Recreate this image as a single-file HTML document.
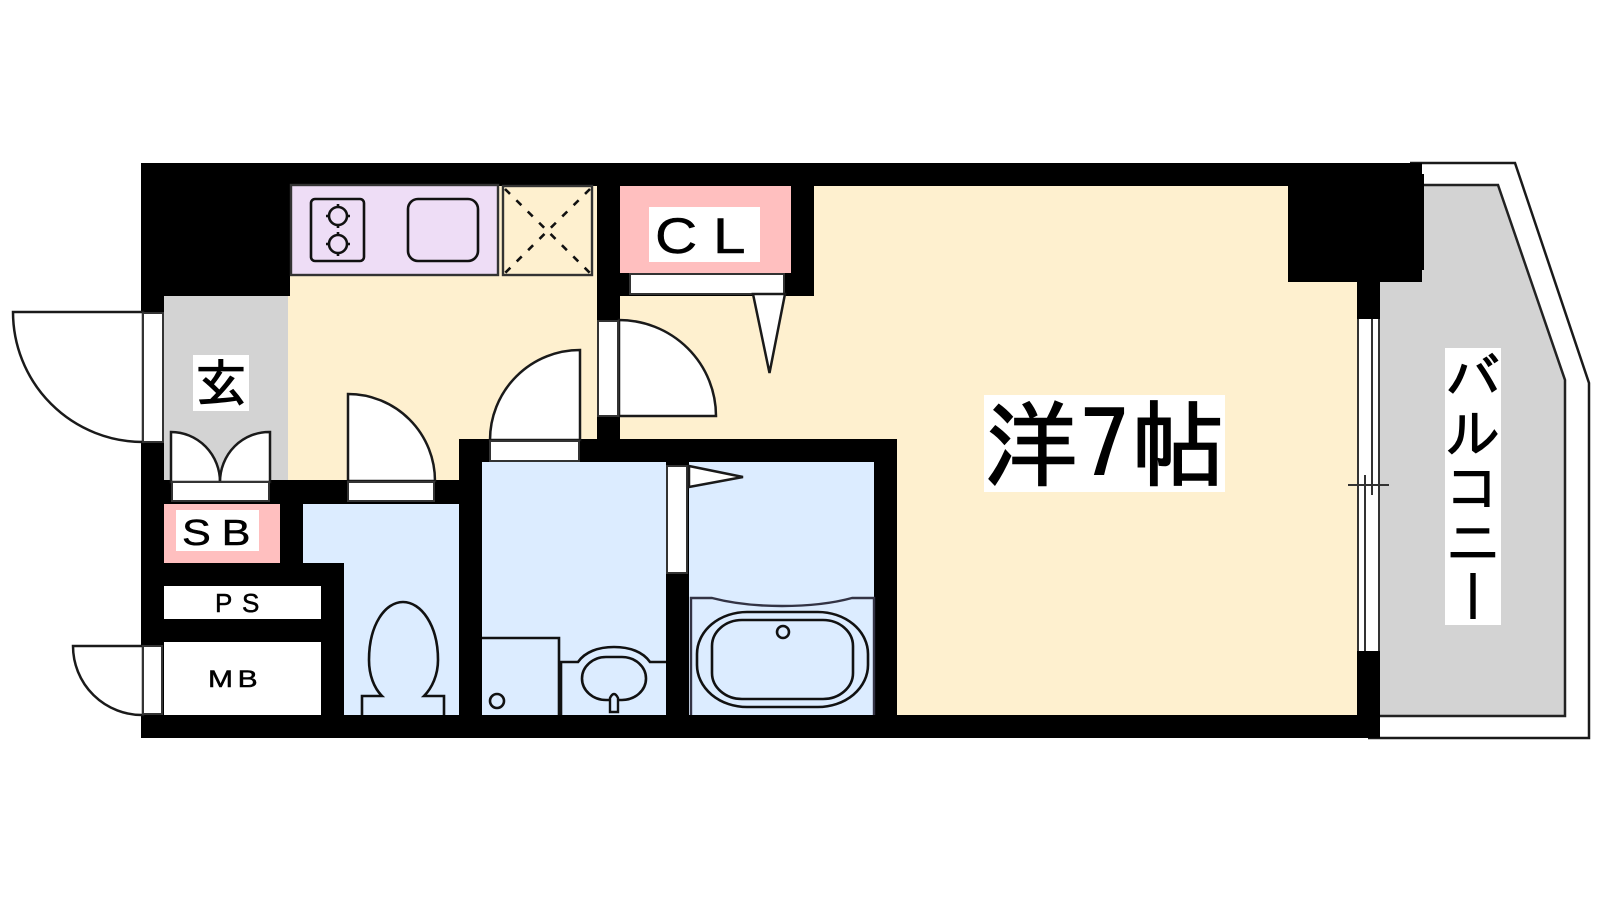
<!DOCTYPE html>
<html><head><meta charset="utf-8"><style>
html,body{margin:0;padding:0;background:#fff;width:1600px;height:900px;overflow:hidden}
svg{display:block}
.l{fill:none;stroke:#111;stroke-width:2.600}
.d{fill:#fff;stroke:#1a1a1a;stroke-width:2.500}
.g{fill:#fff;stroke:#333;stroke-width:2}
text{fill:#000}
.a{font-family:"Liberation Sans",sans-serif;stroke:#000;stroke-width:.5}
.j{font-family:"IPAGothic","Noto Sans CJK JP",sans-serif;stroke:#000}
</style></head><body>
<svg width="1600" height="900" viewBox="0 0 1600 900" xmlns="http://www.w3.org/2000/svg">
<path class="d" d="M1410 163H1515L1589 383V738H1368"/>
<path d="M1375 185H1498L1565 380V716H1375Z" fill="#d3d3d3" stroke="#222" stroke-width="2.500"/>
<rect x="141" y="163" width="1239" height="575" fill="#000"/>
<rect x="1380" y="163" width="42" height="119" fill="#000"/>
<rect x="1420" y="174" width="4" height="96" fill="#000"/>
<path d="M288 186H1288V282H1357V715H897V439H620V296H814V186H288Z" fill="#fef0cf"/>
<path d="M791 186H814V296H620V186Z" fill="#000"/>
<rect x="288" y="186" width="309" height="294" fill="#fef0cf"/>
<rect x="288" y="186" width="2" height="110" fill="#000"/>
<rect x="344" y="439" width="115" height="41" fill="#fef0cf"/>
<rect x="164" y="296" width="124" height="184" fill="#d3d3d3"/>
<rect x="288" y="296" width="171" height="184" fill="#fef0cf"/>
<rect x="459" y="439" width="160" height="41" fill="#000"/>
<rect x="597" y="186" width="23" height="253" fill="#000"/>
<rect x="620" y="186" width="171" height="87" fill="#ffbfbf"/>
<rect x="482" y="462" width="184" height="253" fill="#dcecff"/>
<rect x="689" y="462" width="185" height="253" fill="#dcecff"/>
<path d="M303 504H459V715H344V563H303Z" fill="#dcecff"/>
<rect x="164" y="504" width="116" height="59" fill="#ffbfbf"/>
<rect x="164" y="586" width="157" height="33" fill="#fff"/>
<rect x="164" y="642" width="157" height="73" fill="#fff"/>

<rect x="291" y="185" width="207" height="90" fill="#eeddf6" stroke="#333" stroke-width="2.400"/>
<rect x="311" y="199" width="53" height="62" rx="4" class="l"/>
<circle cx="338" cy="216" r="9" class="l"/><circle cx="338" cy="244" r="9" class="l"/>
<path class="l" d="M338 204v4M338 224v4M326 216h4M346 216h4M338 232v4M338 252v4M326 244h4M346 244h4"/>
<rect x="408" y="199" width="70" height="62" rx="10" class="l"/>
<rect x="503" y="186" width="89" height="89" fill="#fef0cf" stroke="#333" stroke-width="2.400"/>
<path class="l" stroke-dasharray="7 9" d="M505 189L590 273M590 189L505 273"/>

<path class="d" d="M143 312H13A130 130 0 0 0 143 442Z"/>
<rect class="g" x="143" y="313" width="20" height="129"/>
<path class="d" d="M143 646H73A69 69 0 0 0 143 715Z"/>
<rect class="g" x="143" y="646" width="19" height="68"/>
<path class="d" d="M171 432A49 50 0 0 1 220 482H171Z"/>
<path class="d" d="M270 432A49 50 0 0 0 220 482H270Z"/>
<rect class="g" x="172" y="482" width="97" height="19"/>
<path class="d" d="M348 394A87 87 0 0 1 435 481H348Z"/>
<rect class="g" x="348" y="482" width="86" height="19"/>
<path class="d" d="M580 350A90 90 0 0 0 490 440H580Z"/>
<rect class="g" x="490" y="441" width="89" height="20"/>
<path class="d" d="M619 320A97 96 0 0 1 716 416H619Z"/>
<rect class="g" x="598" y="321" width="20" height="95"/>
<rect class="g" x="630" y="274" width="154" height="20"/>
<path class="d" d="M753 294H785L769.500 373Z"/>
<rect class="g" x="667" y="466" width="20" height="107"/>
<path class="d" d="M689 466L743 477L689 487Z"/>

<path class="l" d="M369 660C369 625 385 602 403 602C421 602 438 625 438 660C438 675 432 688 424 696H444V715M369 660C369 675 374 688 382 696H362V715"/>
<path class="l" d="M482 638H559V715"/>
<circle cx="497" cy="701" r="7" class="l"/>
<path class="l" d="M561 715V662H578C585 652 598 647 614 647C630 647 643 652 650 662H666"/>
<rect x="582" y="657" width="64" height="43" rx="24" class="l"/>
<path d="M610 712V698Q614 690 618 698V712Z" fill="#dcecff" stroke="#111" stroke-width="2.400"/>
<path fill="none" stroke="#334" stroke-width="2.400" d="M691 715V598H712C735 604 760 606 782 606C805 606 830 604 852 598H874V715"/>
<rect x="697" y="612" width="171" height="95" rx="50" ry="42" class="l"/>
<rect x="712" y="620" width="141" height="79" rx="30" ry="26" class="l"/>
<circle cx="783" cy="632" r="6" class="l"/>

<rect x="1358" y="319" width="21" height="332" fill="#fff"/>
<path stroke="#333" stroke-width="2" fill="none" d="M1358 319V651M1379 319V651M1372 319V495M1365 475V651M1348 485H1389"/>

<rect x="984" y="395" width="241" height="97" fill="#fff"/>
<text class="j" font-size="94" x="984" y="479" textLength="241" lengthAdjust="spacing" stroke-width="1.600">洋7帖</text>
<rect x="649" y="207" width="111" height="55" fill="#fff"/>
<text class="a" font-size="50" transform="translate(655,253) scale(1.17,1)" x="0 49.600" y="0">CL</text>
<rect x="193" y="355" width="56" height="56" fill="#fff"/>
<text class="j" font-size="52" x="195" y="402" stroke-width="1">玄</text>
<rect x="176" y="510" width="83" height="41" fill="#fff"/>
<text class="a" font-size="36" transform="translate(182,545) scale(1.2,1)" x="0 33" y="0">SB</text>
<text class="a" font-size="26" x="215 242" y="612">PS</text>
<text class="a" font-size="24" transform="translate(208,687) scale(1.25,1)" x="0 23.700" y="0">MB</text>
<rect x="1445" y="348" width="56" height="277" fill="#fff"/>
<text class="j" font-size="55" x="1473" y="349" stroke-width="1" style="writing-mode:vertical-rl">バルコニー</text>
</svg>
</body></html>
